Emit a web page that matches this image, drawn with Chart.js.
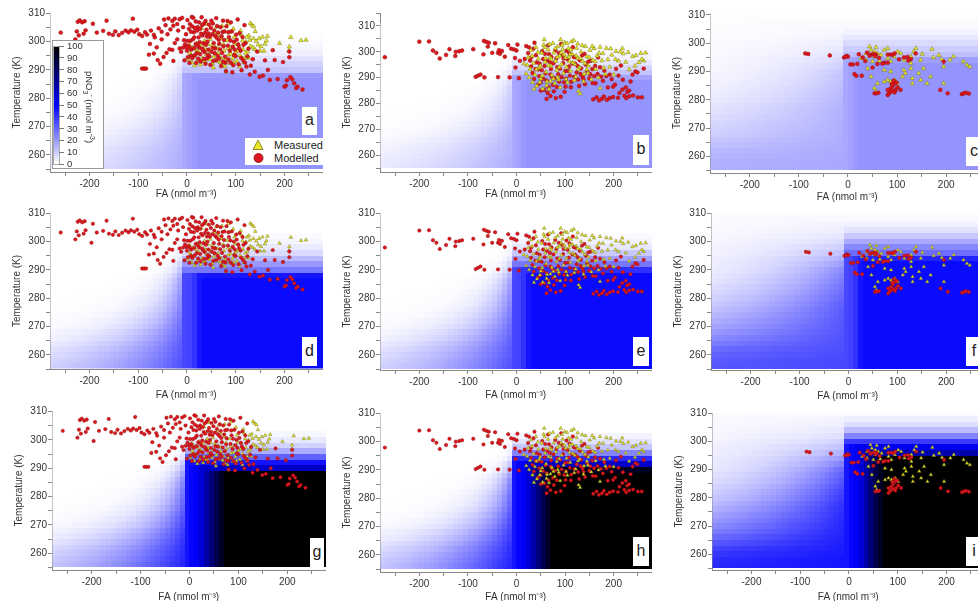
<!DOCTYPE html>
<html>
<head>
<meta charset="utf-8">
<script src="https://cdn.jsdelivr.net/npm/chart.js@4.4.1/dist/chart.umd.min.js"></script>
<style>
body{margin:0;width:978px;height:601px;overflow:hidden;background:#fff;position:relative;font-family:"Liberation Sans",Arial,sans-serif;color:#222}
canvas{position:absolute}
.abs{position:absolute}
.letter{position:absolute;background:#fff;font-size:16px;text-align:center;color:#222}
</style>
</head>
<body>
<script>
const FONT = '"Liberation Sans", Arial, sans-serif';

// ---- scatter data, one set per column of panels (a/d/g, b/e/h, c/f/i) ----
const modelled1 = [[-259,303.2],[-229,300.8],[-226,303.6],[-224,307],[-220,307.5],[-215,306.8],[-210,307.2],[-222,302.2],[-212,302.8],[-208,304],[-196,299.6],[-193,306.3],[-185,303.2],[-172,303.8],[-165,307.4],[-160,302.8],[-152,302.4],[-147,303.6],[-140,302.3],[-133,303.1],[-126,303.9],[-120,303.3],[-115,304],[-111,308.1],[-108,303.5],[-102,304.2],[-98,302.6],[-92,302],[-86,303.3],[-82,302.5],[-74,303.9],[-68,302.4],[-76,299.2],[-66,301.5],[-58,304.7],[-52,303.5],[-47,307.8],[-44,305.8],[-38,308.2],[-34,304.3],[-30,307.3],[-25,308.1],[-20,306.2],[-15,307.9],[-10,308.4],[-8,305.1],[-92,290.5],[-88,290.5],[-84,290.5],[-78,295.4],[-68,295.8],[-60,293.5],[-55,292.2],[-48,294.6],[-42,296],[-36,297.3],[-30,297.1],[-25,299.5],[-20,300.8],[-15,297.6],[-28,293.2],[-12,296.4],[-5,293.4],[-4,299],[-2,302.6],[0,296.8],[2,294.5],[5,292.5],[4,304.5],[7,300.3],[9,297.2],[10,308.7],[13,308.4],[14,303.3],[16,295.2],[18,299.2],[19,292.5],[22,305.1],[24,301.5],[25,297.9],[27,295.6],[28,293],[30,308.6],[32,302.2],[34,299.4],[36,296.3],[38,292.2],[40,304.2],[42,300],[44,297.2],[46,294.8],[48,291.8],[50,307.4],[52,302.6],[55,299.5],[57,295.9],[60,293.5],[62,305.5],[65,300.7],[68,297.3],[70,291.4],[73,303.4],[75,298.4],[78,294.7],[80,289.6],[83,307.3],[86,301.6],[88,296.8],[90,292.6],[93,289.2],[96,300],[100,294.9],[104,307.8],[106,292],[110,296.8],[112,289.9],[115,293.5],[118,305.8],[122,291.2],[126,297.5],[129,288.4],[135,293.8],[139,289.4],[144,296.5],[149,287.6],[156,288],[160,293.4],[166,290],[170,286.5],[176,297],[180,293.5],[186,286.8],[197,292.8],[200,284.1],[203,284.5],[205,286.4],[210,294.5],[212,287.5],[216,286.7],[220,285.3],[224,283.6],[227,284.1],[237,283.1],[210,296.5],[3,298.5],[8,295],[12,300.8],[15,297.8],[20,296],[23,294],[26,299.8],[29,302.8],[33,296.9],[35,293.9],[39,298.9],[43,295.3],[47,301.7],[51,296.4],[54,293.2],[58,297.6],[63,295],[66,299.2],[72,296],[76,300.6],[79,292.6],[84,298.6],[92,303.6],[98,297.2],[102,300.7],[108,303],[120,299.5],[114,301.6],[58,302],[45,306],[35,306.4],[25,306.8],[18,307.1],[60,308.3],[90,306.8],[105,299],[8,303.5],[-6,300.5],[1,300.3],[1,307.6],[6,306.2],[11,305.4],[16,304.8],[21,303.9],[27,304.5],[31,305.8],[37,303.1],[41,301.8],[44,302.9],[49,304.8],[53,306.4],[56,303.9],[61,301.4],[64,303.2],[69,305.1],[71,301.9],[74,307.4],[77,303.6],[81,305.4],[85,303.3],[89,300.4],[94,298.1],[97,295.3],[101,302.5],[107,297.7],[111,294.3],[116,298.9],[119,292.6],[124,294.8],[131,291.5],[95,291.7],[85,293.7],[74,292.9],[66,294.1],[53,297.8],[41,294.1],[31,297.5],[22,298.7],[11,294.2],[6,297.8],[-8,297.9],[-1,298],[15,301.5],[38,307.3],[-18,303.9],[-28,305.6],[-40,302.6],[-52,300.8],[-62,298]];
const measured1 = [[2,293.8],[6,296],[10,292.6],[14,294.7],[18,297.2],[21,293.2],[25,295.8],[28,291.9],[31,294.1],[34,297.6],[37,292.9],[40,295.4],[43,299.1],[46,293.7],[49,296.5],[52,292.2],[55,294.7],[58,297.9],[61,293.2],[64,295.9],[67,299.3],[70,294.2],[73,291.7],[76,296.8],[79,293.6],[82,300.4],[85,295.3],[88,292.4],[91,297.9],[94,294.1],[97,301.6],[100,296.3],[103,293.1],[106,298.8],[109,295.1],[112,302.3],[115,297.3],[118,294.2],[121,299.9],[124,296.4],[127,302.1],[130,298.4],[133,305.9],[136,301.1],[139,297.3],[142,300.2],[146,298.9],[150,296.7],[155,301.6],[160,299.2],[165,301.9],[190,299.4],[210,298.2],[213,301.5],[209,296.8],[234,300.4],[244,300.6],[130,306.5],[137,305.3],[85,306.4],[72,305.5],[60,305.2],[30,304.6],[40,306.2],[95,304.5],[110,303.8],[20,299.4],[48,300.8],[64,302.3],[120,296],[80,289.4],[12,297.9],[5,298.9],[9,295.2],[16,291.6],[23,296.4],[27,298.9],[33,293.1],[36,300.3],[39,297.1],[45,295.2],[51,298.6],[54,290.8],[57,303.3],[63,297.5],[68,292.7],[71,301.1],[75,299],[78,291.2],[84,297.7],[87,303.4],[90,295.6],[96,292.6],[99,299.2],[105,296.8],[108,291.2],[114,300.3],[117,292.6],[123,301.6],[126,294.2],[129,300.5],[135,297.9],[140,303.6],[148,301.1],[152,298.3],[158,296.7],[163,300.3]];

const modelled2 = [[-271,297.9],[-200,303.9],[-180,304],[-172,300.5],[-165,299.6],[-158,297.4],[-145,298.8],[-138,301],[-126,298.4],[-125,300],[-118,300.2],[-112,300.5],[-89,301],[-84,290.3],[-79,290.8],[-74,291.2],[-66,290.1],[-68,299],[-67,304.2],[-62,303.8],[-57,303.5],[-59,302],[-50,299.6],[-44,303.3],[-38,299.6],[-34,299.2],[-30,300.3],[-36,300.6],[-38,290.2],[-24,298.1],[-17,302.6],[-11,301.2],[-14,290.1],[-3,297.6],[-2,293.9],[5,289.8],[2,302.8],[0,300.5],[7,296.5],[17,297.2],[-5,300.9],[20,302.2],[24,299.5],[26,301.7],[28,296.6],[30,294.3],[33,291.8],[36,289.5],[37,303.5],[40,298.7],[42,295.9],[45,293.2],[47,290.6],[50,288.1],[50,285],[53,300.2],[55,297.2],[57,285.3],[58,294.5],[60,291.7],[62,288.9],[64,284.1],[65,302.5],[67,299.1],[69,296],[71,293.3],[73,290.4],[75,287.2],[77,284.7],[80,300.6],[82,297.4],[84,294.1],[81,282.1],[86,291.3],[88,288.5],[91,282.6],[92,303],[94,298.8],[96,295.6],[99,284.5],[98,288.2],[101,286.5],[100,292.5],[103,300.4],[105,297.1],[108,294.3],[110,290.8],[113,288.4],[116,301.8],[118,298],[121,295.4],[124,292],[127,289.3],[130,296.8],[133,293.6],[136,290.5],[138,289.4],[140,299.2],[143,295],[146,292.4],[150,289.7],[153,296.5],[156,293.3],[160,290.6],[163,287.8],[158,281.6],[165,282.4],[170,281.2],[176,281.8],[180,282.7],[186,281.4],[192,282.1],[199,282.5],[168,297.8],[172,294],[178,288.8],[185,290.6],[192,291.2],[188,286.2],[199,286.5],[205,293.4],[209,282.2],[212,284.1],[215,294.7],[218,285.4],[222,283],[225,286.2],[228,284.5],[232,282.8],[232,285],[239,291.2],[245,292.4],[249,292],[250,282.4],[258,282.4],[262,293.5],[235,288.5],[30,297.8],[35,301.2],[39,293.3],[44,287.3],[48,295.4],[52,292.9],[55,289.6],[59,299.2],[63,296.7],[66,286.4],[70,291.2],[72,298],[76,295.5],[79,289.7],[83,286.4],[87,299.6],[90,293.5],[93,290.2],[97,297.4],[102,289.6],[106,292.6],[109,299.4],[112,286.3],[115,295.5],[119,290.3],[122,297.8],[126,294.5],[129,286.8],[132,291.4],[135,298.6],[141,287.5],[148,296.2],[152,291.3],[157,287.9],[162,294.5],[167,291.4],[174,290.4],[181,292.7],[196,289.4],[203,287.3],[210,290.8],[219,289.2],[226,282.1],[240,283.1],[62,281.8],[70,282.9]];
const measured2 = [[15,295.4],[20,291.5],[24,297.8],[28,293.3],[30,300.6],[33,288.2],[35,295.6],[38,291.1],[40,301.8],[42,286.8],[45,297.3],[47,293.8],[50,289.6],[52,299.5],[54,285.7],[56,302.6],[57,304.7],[59,296],[61,292.2],[63,288.4],[65,300.8],[67,285.5],[69,297.8],[71,294.4],[73,290.9],[75,303.3],[77,299.6],[79,287.7],[81,296.3],[83,292.9],[85,302],[87,289.2],[89,298.4],[91,304.7],[93,295.2],[95,300.9],[97,291.7],[99,303.6],[101,297.7],[103,294.1],[105,288.1],[107,301.3],[109,296.2],[111,292.6],[113,303.9],[115,299.1],[118,304.4],[120,295.2],[122,290.3],[124,301.4],[126,297.6],[128,284.7],[131,283.8],[130,293.9],[133,300],[136,296.3],[139,291.4],[142,302.1],[145,298.1],[148,294.6],[151,300.6],[154,289.3],[157,296.7],[160,301.3],[163,293.2],[166,298.4],[169,290],[172,301.8],[172,285.9],[176,296.6],[180,293.7],[185,301.4],[188,297],[192,294.1],[196,298.8],[200,291.1],[205,300.2],[210,296.5],[214,300],[220,299.3],[225,296],[232,293.1],[239,298.2],[246,298.6],[252,295.9],[256,299.4],[262,296.5],[266,299.6],[230,299.8],[60,297.5],[92,299.6],[110,298.9],[126,303.1],[145,293.1],[85,290.1],[70,288.6],[48,288.2],[22,294.8],[26,290.1],[32,298.4],[36,285.6],[41,293.1],[44,299.9],[49,294.6],[53,290.7],[58,301.7],[62,287],[66,294.7],[68,302.9],[72,297.1],[76,289.5],[80,301.3],[84,297.9],[88,294],[90,286.2],[94,302.5],[98,298.9],[102,289.4],[104,303.2],[108,297.9],[112,300.8],[116,295.8],[119,289],[123,298.5],[127,293.2],[132,297.4],[135,302.4],[138,288.5],[141,295.5],[147,291.7],[150,297.9],[156,302.1],[162,296.2],[170,299.5],[178,299.4],[183,291.3],[194,301.2],[204,297.1],[218,301.3],[244,294.5],[258,297.1]];

const modelled3 = [[-87,296.4],[-81,296.2],[-37,295.7],[-8,295],[-3,295.5],[0,295.3],[5,292.5],[10,292.5],[19,292.7],[13,289.1],[17,288.5],[28,288.5],[22,296.1],[30,295],[35,293.7],[39,296.7],[47,296],[52,296.2],[57,296],[50,291.4],[60,292.7],[74,293.1],[81,293.1],[81,296],[87,296],[91,295.9],[95,296.4],[104,294.3],[114,295],[121,295.2],[128,294.4],[138,296.4],[195,293.5],[188,283.5],[203,282.3],[232,282],[236,282.3],[240,282.5],[246,282.2],[54,282.3],[58,282.3],[62,282.5],[81,281.7],[84,282.3],[87,284],[91,284.9],[95,285.8],[93,286.8],[97,283.5],[87,282.9],[101,284.4],[107,283.5],[81,283.5],[89,285.6],[92,283.2],[99,286.1],[95,282.6],[55,295.5],[63,294.8],[44,295.6],[123,293.9],[70,292.8],[-5,295.2]];
const measured3 = [[44,298.8],[57,298.6],[47,297.6],[60,296.4],[67,295.8],[74,297.6],[54,295.3],[37,294.1],[40,291.1],[50,293.5],[81,294.7],[87,293.5],[94,295.3],[107,296.4],[114,294.1],[128,295.3],[134,297],[138,298.2],[151,296.2],[171,297.9],[174,295],[185,295.8],[191,294.3],[215,295.3],[235,293.5],[242,292.3],[248,291.7],[128,291.1],[114,290.5],[117,289.4],[111,288.2],[95,287],[87,286.4],[81,287],[74,286.4],[101,285.8],[60,285.8],[54,284.1],[57,282.9],[47,288.2],[74,290.5],[87,290],[131,287.6],[131,285.8],[148,287],[154,291.1],[168,288.2],[161,285.8],[195,291.7],[195,285.8],[144,289.4],[128,292.9],[148,294.1],[208,294.1],[101,297],[81,298.2],[54,297],[64,293.8],[37,296.4],[27,294.7]];

const modelledSets = [modelled1, modelled2, modelled3];
const measuredSets = [measured1, measured2, measured3];

// ---- pNO3 background, read as profiles ----
// cell edges of the model grid
const heatFA = [];
for (let f = -280; f < 280; f += 10) heatFA.push(f);
const heatT = [];
for (let t = 255; t < 311; t += 2) heatT.push(t);

// pNO3 along FA at low temperature, from FA = -10 upward in 10 nmol steps (one list per panel row)
const edgeProfile = [
  [17, 18, 20, 21],
  [36, 37, 40, 46, 48],
  [46, 49, 52, 58, 67, 76, 85, 93, 100, 106, 110]
];
const rowCap = [21, 48, 110];

// per temperature row (256 ... 310 K): fraction of the cap still reached
const tempFrac = [
  [1,1,1,1,1,1,1,1,1,1,1,1,1,1,1,1,0.95,0.55,0.42,0.28,0.15,0.08,0.04,0.015,0,0,0,0],
  [1,1,1,1,1,1,1,1,1,1,1,1,1,1,1,1,1,0.85,0.55,0.38,0.22,0.1,0.05,0.02,0,0,0,0],
  [1,1,1,1,1,1,1,1,1,1,1,1,1,1,1,1,1,1,1,0.9,0.6,0.48,0.35,0.22,0.12,0.06,0.03,0.01]
];
// fade towards negative FA: level at the edge and fade length (nmol m-3)
const leftAmpAB = [.95,.94,.92,.91,.89,.87,.85,.82,.79,.76,.73,.70,.68,.65,.62,.58,.50,.40,.30,.18,.10,.06,.04,.02,.01,0,0,0];
const leftLenAB = [200,185,170,150,130,110,95,80,70,60,52,45,40,35,30,26,22,18,15,12,10,10,10,10,10,10,10,10];
const leftAmpC = [1,1,.98,.97,.96,.95,.94,.93,.92,.91,.90,.88,.85,.82,.78,.74,.70,.65,.55,.45,.35,.27,.20,.14,.10,.07,.05,.04];
const leftLenC = [3000,2500,2000,1400,900,650,500,420,360,310,270,240,212,195,180,165,155,146,150,160,170,185,200,220,250,300,350,400];
const leftAmp = [leftAmpAB, leftAmpAB, leftAmpC];
const leftLen = [leftLenAB, leftLenAB, leftLenC];

const cbTicks = [0,10,20,30,40,50,60,70,80,90,100];

function cellValue(cg, row, fa, j) {
  const prof = edgeProfile[row];
  const cap = rowCap[row] * tempFrac[cg][j];
  let v;
  if (fa >= -10) v = prof[Math.min(prof.length - 1, (fa + 10) / 10)];
  else v = prof[0] * leftAmp[cg][j] * Math.exp((fa + 15) / leftLen[cg][j]);
  return Math.min(v, cap);
}

function colour(v) {
  if (v <= 50) {
    const c = Math.round(255 * (1 - v / 50));
    return 'rgb(' + c + ',' + c + ',255)';
  }
  const b = Math.round(255 * Math.max(0, 1 - (v - 50) / 50));
  return 'rgb(0,0,' + b + ')';
}

const heatPlugin = {
  id: 'heat',
  beforeDatasetsDraw(chart, args, opts) {
    const {ctx, chartArea: a, scales: {x, y}} = chart;
    ctx.save();
    ctx.beginPath();
    ctx.rect(a.left + 0.5, a.top, a.right - a.left, a.bottom - a.top - 0.5);
    ctx.clip();
    for (let j = 0; j < heatT.length; j++) {
      const y0 = Math.round(y.getPixelForValue(heatT[j] + 2)), y1 = Math.round(y.getPixelForValue(heatT[j]));
      for (let i = 0; i < heatFA.length; i++) {
        const x0 = Math.round(x.getPixelForValue(heatFA[i])), x1 = Math.round(x.getPixelForValue(heatFA[i] + 10));
        ctx.fillStyle = colour(cellValue(opts.cg, opts.row, heatFA[i], j));
        ctx.fillRect(x0, y0, x1 - x0, y1 - y0);
      }
    }
    ctx.restore();
  }
};

// panel placement: plot box on the page (L,R,T,B), temperature range, gap to x title
const panels = [
  {id:'a', cg:0, row:0, L:50,  R:327, T:13,  B:172, yMin:254.0, yMax:310.1, gap:22},
  {id:'b', cg:1, row:0, L:380, R:656, T:13,  B:172, yMin:253.5, yMax:315.0, gap:22},
  {id:'c', cg:2, row:0, L:710, R:989, T:13,  B:173, yMin:254.1, yMax:310.7, gap:24},
  {id:'d', cg:0, row:1, L:50,  R:327, T:213, B:369, yMin:255.0, yMax:310.1, gap:26},
  {id:'e', cg:1, row:1, L:380, R:656, T:213, B:370, yMin:254.7, yMax:310.1, gap:25},
  {id:'f', cg:2, row:1, L:711, R:989, T:213, B:370, yMin:254.7, yMax:310.1, gap:26},
  {id:'g', cg:0, row:2, L:52,  R:330, T:411, B:570, yMin:254.1, yMax:310.2, gap:27},
  {id:'h', cg:1, row:2, L:380, R:656, T:413, B:572, yMin:254.0, yMax:310.1, gap:25},
  {id:'i', cg:2, row:2, L:712, R:989, T:413, B:570, yMin:254.4, yMax:310.1, gap:27}
];
const letterBoxes = {
  a:[302,107,15,28], b:[633,135,16,30], c:[966,137,16,29],
  d:[302,337,15,29], e:[633,337,16,29], f:[966,337,16,29],
  g:[310,538,14,29], h:[633,537,16,29], i:[966,537,16,29]
};

const YW = 50, PADTOP = 7;
panels.forEach(p => {
  const cv = document.createElement('canvas');
  const xh = p.gap + 8;
  cv.width = YW + (p.R - p.L);
  cv.height = PADTOP + (p.B - p.T) + xh;
  cv.style.left = (p.L - YW) + 'px';
  cv.style.top = (p.T - PADTOP) + 'px';
  document.body.appendChild(cv);

  const big = p.row === 0;
  const red = {
    label: 'Modelled', data: modelledSets[p.cg].map(d => ({x: d[0], y: d[1]})),
    pointStyle: 'circle', pointRadius: big ? 1.9 : 1.7,
    backgroundColor: 'rgb(222,24,30)', borderColor: 'rgb(150,12,12)', borderWidth: 0.5,
    order: p.cg === 1 ? 1 : 0
  };
  const yel = {
    label: 'Measured', data: measuredSets[p.cg].map(d => ({x: d[0], y: d[1]})),
    pointStyle: 'triangle', pointRadius: big ? 2.5 : 2.0,
    backgroundColor: 'rgb(232,232,40)', borderColor: 'rgb(120,120,25)', borderWidth: 0.5,
    order: p.cg === 1 ? 0 : 1
  };
  const tickFont = {family: FONT, size: 10};
  new Chart(cv, {
    type: 'scatter',
    data: {datasets: [red, yel]},
    options: {
      responsive: false, animation: false, events: [],
      layout: {padding: {top: PADTOP, left: 0, right: 0, bottom: 0}},
      plugins: {legend: {display: false}, tooltip: {enabled: false}, heat: {cg: p.cg, row: p.row}},
      scales: {
        x: {
          type: 'linear', min: -281, max: 278,
          afterFit(s) { s.height = xh; },
          ticks: {stepSize: 50, includeBounds: false, autoSkip: false, maxRotation: 0, padding: 2,
                  color: '#333', font: tickFont, callback: v => (v % 100 === 0 ? v : '')},
          grid: {drawOnChartArea: false, tickLength: 4, color: '#888'},
          border: {color: '#888'},
          title: {display: true, text: 'FA (nmol m⁻³)', color: '#333', font: tickFont, padding: {top: 0, bottom: 2}}
        },
        y: {
          type: 'linear', min: p.yMin, max: p.yMax,
          afterFit(s) { s.width = YW; },
          ticks: {stepSize: 5, includeBounds: false, autoSkip: false, padding: 1,
                  color: '#333', font: tickFont, callback: v => (v % 10 === 0 ? v : '')},
          grid: {drawOnChartArea: false, tickLength: 4, color: '#888'},
          border: {color: '#888'},
          title: {display: true, text: 'Temperature (K)', color: '#333', font: tickFont, padding: {top: 11, bottom: 0}}
        }
      }
    },
    plugins: [heatPlugin]
  });

  const lb = letterBoxes[p.id];
  const d = document.createElement('div');
  d.className = 'letter';
  d.style.cssText = 'left:' + lb[0] + 'px;top:' + lb[1] + 'px;width:' + lb[2] + 'px;height:' + lb[3] + 'px;line-height:' + (lb[3] - 2) + 'px';
  d.textContent = p.id;
  document.body.appendChild(d);
});

// ---- colour bar inside panel a ----
(function () {
  const box = document.createElement('div');
  box.className = 'abs';
  box.style.cssText = 'left:52px;top:40px;width:50px;height:127px;background:#fff;border:1px solid #999';
  document.body.appendChild(box);
  const strip = document.createElement('div');
  strip.className = 'abs';
  strip.style.cssText = 'left:53px;top:46px;width:5px;height:117px;border:1px solid #aaa;background:linear-gradient(to top,#fff 0%,#00f 50%,#000 100%)';
  document.body.appendChild(strip);
  cbTicks.forEach(t => {
    const yy = 164 - t * 1.18;
    const tk = document.createElement('div');
    tk.className = 'abs';
    tk.style.cssText = 'left:59px;top:' + (yy - 0.5) + 'px;width:5px;height:1px;background:#777';
    document.body.appendChild(tk);
    const lab = document.createElement('div');
    lab.className = 'abs';
    lab.style.cssText = 'left:67px;top:' + (yy - 6) + 'px;font-size:9.5px;line-height:12px;color:#333';
    lab.textContent = t;
    document.body.appendChild(lab);
  });
  const ttl = document.createElement('div');
  ttl.className = 'abs';
  ttl.style.cssText = 'top:101px;width:80px;text-align:center;font-size:9.5px;line-height:12px;color:#333;transform:rotate(90deg);transform-origin:40px 6px;left:52px';
  ttl.innerHTML = 'pNO<sub style="font-size:7px">3</sub><sup style="font-size:7px">-</sup> (nmol m<sup style="font-size:7px">-3</sup>)';
  document.body.appendChild(ttl);
})();

// ---- legend inside panel a ----
(function () {
  const lg = document.createElement('div');
  lg.className = 'abs';
  lg.style.cssText = 'left:245px;top:138px;width:80px;height:27px;background:#fff';
  lg.innerHTML =
    '<svg class="abs" style="left:7px;top:1px" width="12" height="12"><polygon points="6,1 11,10.5 1,10.5" fill="rgb(232,232,40)" stroke="rgb(110,110,20)" stroke-width="0.8"/></svg>' +
    '<div class="abs" style="left:29px;top:1px;font-size:11px;line-height:13px;color:#222">Measured</div>' +
    '<svg class="abs" style="left:8px;top:14px" width="12" height="12"><circle cx="5.5" cy="6" r="4.5" fill="rgb(222,24,30)" stroke="rgb(140,10,10)" stroke-width="0.8"/></svg>' +
    '<div class="abs" style="left:29px;top:14px;font-size:11px;line-height:13px;color:#222">Modelled</div>';
  document.body.appendChild(lg);
})();
</script>
</body>
</html>
